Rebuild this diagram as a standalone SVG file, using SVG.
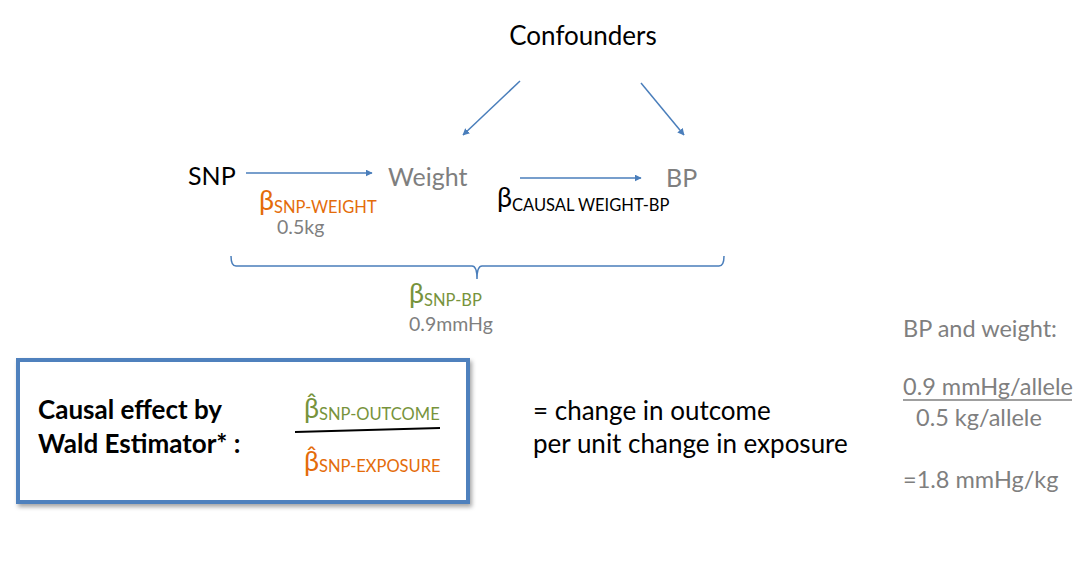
<svg xmlns="http://www.w3.org/2000/svg" width="1091" height="571" viewBox="0 0 1091 571">
<defs>
<style>
text{font-family:Lato,"Open Sans","Liberation Sans",sans-serif;}
.big{font-size:25px;}
.beta{font-size:27px;}
.def{font-size:26px;fill:#000;}
.blk{fill:#000;}
.gry{fill:#7f7f7f;}
.org{fill:#e46c0a;}
.grn{fill:#77933c;}
.sub{font-size:16.5px;}
.val{font-size:19.5px;fill:#7f7f7f;}
.ex{font-size:23.5px;fill:#7f7f7f;}
.bold{font-size:26px;font-weight:bold;fill:#000;}
.conn{stroke:#4a7ebb;stroke-width:1.5;fill:none;}
</style>
<marker id="ah" viewBox="0 0 10 10" refX="9" refY="5" markerWidth="7" markerHeight="7" markerUnits="userSpaceOnUse" orient="auto">
<path d="M0,0 L10,5 L0,10 z" fill="#4a7ebb"/>
</marker>
<filter id="sh" x="-10%" y="-10%" width="120%" height="130%">
<feDropShadow dx="2" dy="3" stdDeviation="2" flood-color="#000" flood-opacity="0.35"/>
</filter>
</defs>
<rect width="1091" height="571" fill="#fff"/>

<g id="connectors">
<line class="conn" x1="520" y1="81" x2="463" y2="135" marker-end="url(#ah)"/>
<line class="conn" x1="641" y1="83" x2="684" y2="135" marker-end="url(#ah)"/>
<line class="conn" x1="246" y1="173" x2="372" y2="173" marker-end="url(#ah)"/>
<line class="conn" x1="520" y1="178" x2="641" y2="178" marker-end="url(#ah)"/>
<path class="conn" d="M231,256 Q231,266 236,266 L472,266 Q477,266 477,279 Q477,266 482,266 L719,266 Q724,266 724,256"/>
</g>

<g id="confounders"><text class="def" x="583" y="45" text-anchor="middle">Confounders</text></g>
<g id="snp"><text class="big blk" x="188" y="185">SNP</text></g>
<g id="weight"><text class="big gry" x="388" y="186">Weight</text></g>
<g id="bp"><text class="big gry" x="666" y="187">BP</text></g>

<g id="label-snp-weight">
<text class="org" x="259" y="210"><tspan class="beta">β</tspan><tspan class="sub" dy="3">SNP-WEIGHT</tspan></text>
<text class="val" x="277" y="234">0.5kg</text>
</g>
<g id="label-causal">
<text class="blk" x="497" y="207"><tspan class="beta">β</tspan><tspan class="sub" dy="4">CAUSAL WEIGHT-BP</tspan></text>
</g>
<g id="label-snp-bp">
<text class="grn" x="409" y="303"><tspan class="beta">β</tspan><tspan class="sub" dy="3">SNP-BP</tspan></text>
<text class="val" x="409" y="331">0.9mmHg</text>
</g>

<g id="wald-box">
<rect x="18" y="360" width="450" height="142" fill="#fff" stroke="#4f81bd" stroke-width="4" filter="url(#sh)"/>
<text class="bold" x="38" y="419">Causal effect by</text>
<text class="bold" x="38" y="453">Wald Estimator* :</text>
<text class="grn" x="304" y="418"><tspan class="beta">β&#x0302;</tspan><tspan class="sub" dy="2">SNP-OUTCOME</tspan></text>
<line x1="295" y1="432" x2="440" y2="428" stroke="#000" stroke-width="2"/>
<text class="org" x="304" y="471"><tspan class="beta">β&#x0302;</tspan><tspan class="sub" dy="1">SNP-EXPOSURE</tspan></text>
</g>

<g id="definition">
<text class="def" x="533" y="420">= change in outcome</text>
<text class="def" x="533" y="453">per unit change in exposure</text>
</g>

<g id="example">
<text class="ex" x="903" y="337">BP and weight:</text>
<text class="ex" x="903" y="395">0.9 mmHg/allele</text>
<line x1="903" y1="400" x2="1072" y2="400" stroke="#7f7f7f" stroke-width="1.5"/>
<text class="ex" x="916" y="426">0.5 kg/allele</text>
<text class="ex" x="903" y="488">=1.8 mmHg/kg</text>
</g>
</svg>
